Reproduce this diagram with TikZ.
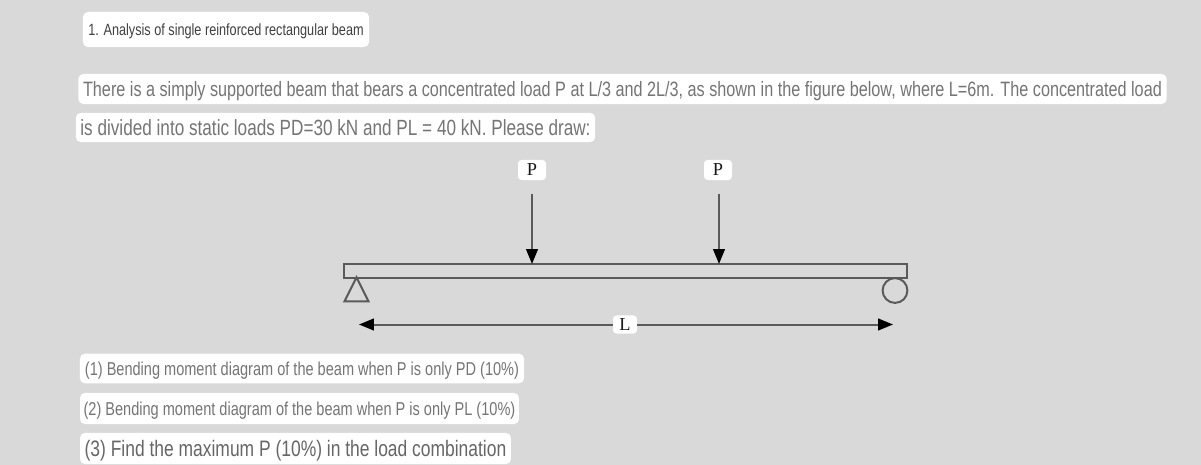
\documentclass[tikz,border=0pt]{standalone}
\usepackage{fontspec}
\usetikzlibrary{arrows.meta,shapes.geometric}
\newfontfamily\qfont[FakeStretch=0.78]{Liberation Sans}
\newfontfamily\figfont{Liberation Serif}
\definecolor{pagegray}{HTML}{D9D9D9}
\definecolor{qgray}{HTML}{757575}
\definecolor{linegray}{HTML}{5A5A5A}
\def\qsize#1{\fontsize{#1}{#1}\selectfont}
\def\qtext#1#2{\qsize{#1}\raisebox{-0.36em}[0pt][0pt]{#2}}
\tikzset{
	qbox/.style={fill=white, rounded corners=3.5pt, inner sep=0, outer sep=0, anchor=center, font=\qfont},
	figbox/.style={fill=white, rounded corners=2.5pt, inner sep=0, outer sep=0, text=black!90, font=\figfont\qsize{13}},
	figline/.style={draw=linegray, line width=0.5mm},
	dimarrow/.style={figline, -{Triangle[length=3.7mm,width=2.9mm,black]}},
}

\begin{document}
\begin{tikzpicture}[x=0.025cm, y=-0.025cm]
			%%%%% START %%%%%
			\fill[pagegray] (0, 0) rectangle (1201, 465);
			\useasboundingbox (0, 0) rectangle (1201, 465);
			
			%%% text boxes
			\node[qbox, minimum width=7.15cm, minimum height=0.875cm, text=black!75] (title) at (226, 29.5) {\qtext{11.56}{1. Analysis of single reinforced rectangular beam}};
			\node[qbox, minimum width=27.2cm, minimum height=0.75cm, text=qgray] (lineone) at (622.5, 89) {\qtext{14.78}{There is a simply supported beam that bears a concentrated load P at L/3 and 2L/3, as shown in the figure below, where L=6m. The concentrated load}};
			\node[qbox, minimum width=12.98cm, minimum height=0.73cm, text=qgray] (linetwo) at (335.5, 127.5) {\qtext{15.64}{is divided into static loads PD=30 kN and PL = 40 kN. Please draw:}};
			
			%%% beam and supports
			\node[figline, fill=pagegray, minimum width=14.05cm, minimum height=0.35cm, inner sep=0] (beam) at (625.5, 271) {};
			\node[figline, isosceles triangle, isosceles triangle apex angle=53, shape border rotate=90, minimum height=0.6cm, inner sep=0] (hinge) at (356.5, 294) {};
			\node[figline, circle, minimum size=0.62cm, inner sep=0] (roller) at (895, 290.5) {};
			
			%%% loads
			\node[figbox, minimum width=0.7cm, minimum height=0.5cm] (loadone) at (532, 170) {P};
			\node[figbox, minimum width=0.7cm, minimum height=0.5cm] (loadtwo) at (718, 170) {P};
			\coordinate (startone) at (532, 194);
			\coordinate (starttwo) at (719, 194);
			\coordinate (hitone) at (532, 264);
			\coordinate (hittwo) at (719, 264);
			\draw[dimarrow] (startone) -- (hitone);
			\draw[dimarrow] (starttwo) -- (hittwo);
			
			%%% span
			\coordinate (spanleft) at (359, 324.5);
			\coordinate (spanright) at (893, 324.5);
			\node[figbox, minimum width=0.6cm, minimum height=0.45cm] (span) at (625, 324.5) {L};
			\draw[dimarrow] (span) -- (spanleft);
			\draw[dimarrow] (span) -- (spanright);
			
			%%% questions
			\node[qbox, minimum width=11.1cm, minimum height=0.74cm, text=qgray] (partone) at (302, 368.5) {\qtext{13.26}{(1) Bending moment diagram of the beam when P is only PD (10\%)}};
			\node[qbox, minimum width=10.97cm, minimum height=0.78cm, text=qgray] (parttwo) at (299.5, 408.5) {\qtext{13.26}{(2) Bending moment diagram of the beam when P is only PL (10\%)}};
			\node[qbox, minimum width=10.77cm, minimum height=0.78cm, text=black!60] (partthree) at (295.5, 448.5) {\qtext{15.9}{(3) Find the maximum P (10\%) in the load combination}};
			%%%%% END %%%%%
		\end{tikzpicture}
\end{document}
